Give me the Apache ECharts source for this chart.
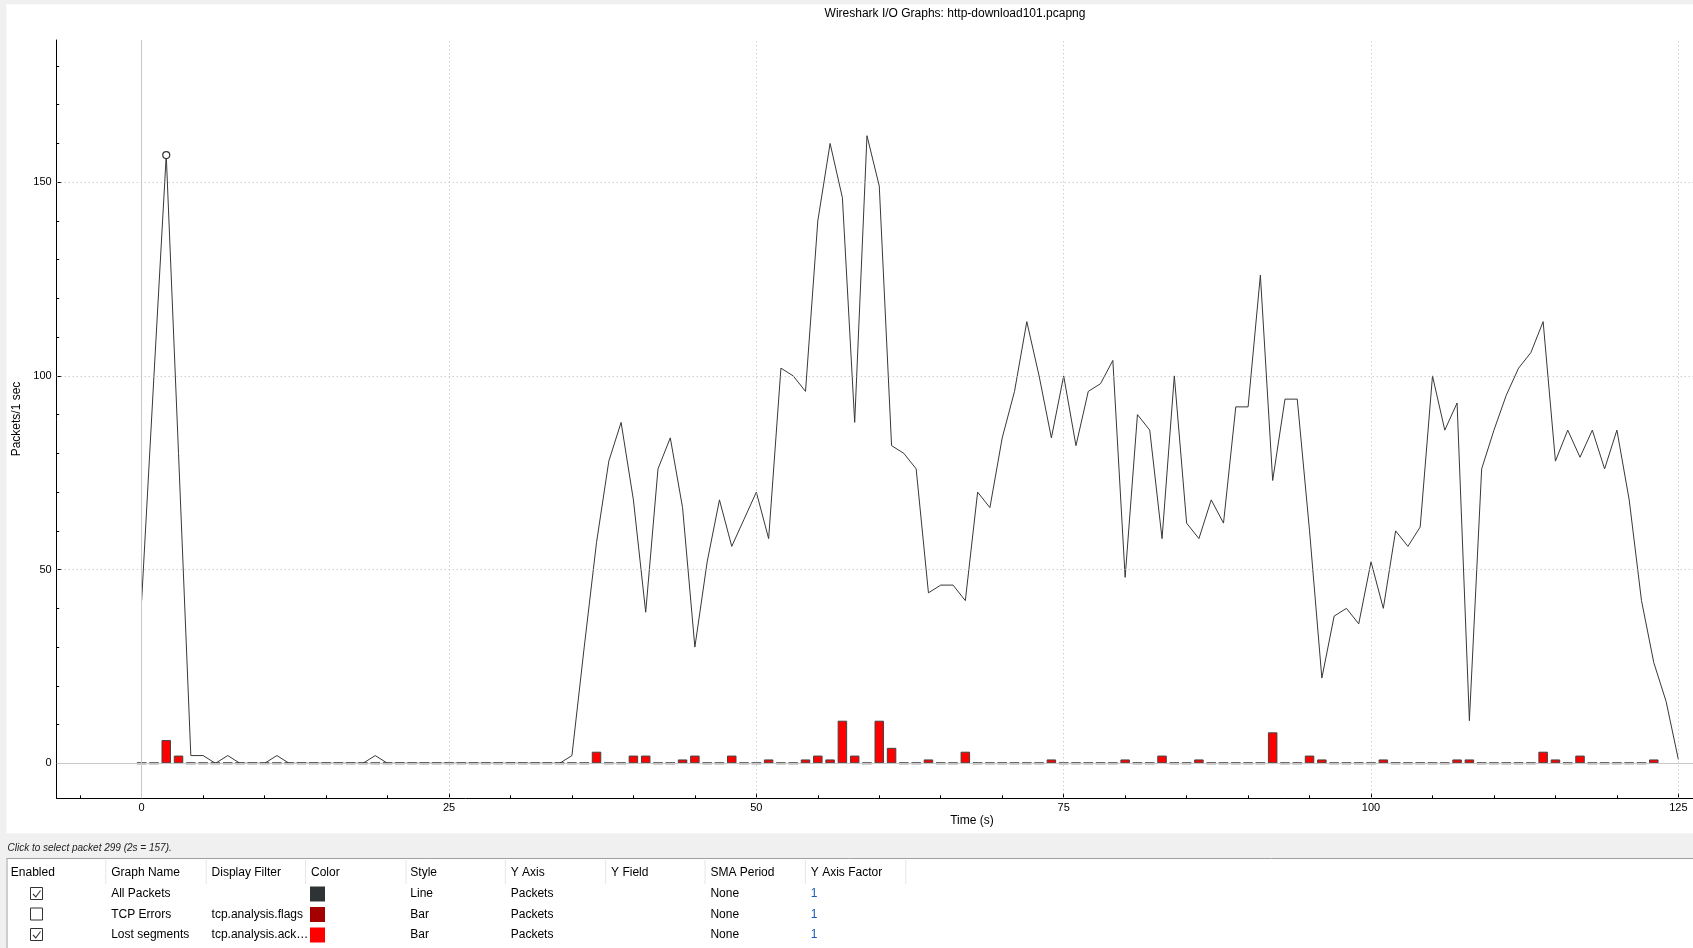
<!DOCTYPE html>
<html><head><meta charset="utf-8">
<script src="https://cdn.jsdelivr.net/npm/echarts@6/dist/echarts.min.js"></script>
<style>html,body{margin:0;padding:0;background:#f0f0f0;}#c{width:1693px;height:948px;}</style>
</head><body><div id="c"></div>
<script>
// ---- data ----
const allPackets = [42,100,157,80,2,2,0,2,0,0, 0,2,0,0,0,0,0,0,0,2, 0,0,0,0,0,0,0,0,0,0,
  0,0,0,0,0,2,30,57,78,88, 68,39,76,84,66,30,52,68,56,63, 70,58,102,100,96,140,160,146,88,162,
  149,82,80,76,44,46,46,42,70,66, 84,96,114,100,84,100,82,96,98,104, 48,90,86,58,100,62,58,68,62,92,
  92,126,73,94,94,60,22,38,40,36, 52,40,60,56,61,100,86,93,11,76, 86,95,102,106,114,78,86,79,86,76,
  86,68,42,26,16,1];
const lostSegments = [0,0,6,2,0,0,0,0,0,0, 0,0,0,0,0,0,0,0,0,0, 0,0,0,0,0,0,0,0,0,0,
  0,0,0,0,0,0,0,3,0,0, 2,2,0,0,1,2,0,0,2,0, 0,1,0,0,1,2,1,11,2,0,
  11,4,0,0,1,0,0,3,0,0, 0,0,0,0,1,0,0,0,0,0, 1,0,0,2,0,0,1,0,0,0,
  0,0,8,0,0,2,1,0,0,0, 0,1,0,0,0,0,0,1,1,0, 0,0,0,0,3,1,0,2,0,0,
  0,0,0,1];
const xTickLabels = [0,25,50,75,100,125];
const xMinorTicks = [-5,5,10,15,20,30,35,40,45,55,60,65,70,80,85,90,95,105,110,115,120];
const yTickLabels = [0,50,100,150];
const yMinorTicks = [10,20,30,40,60,70,80,90,110,120,130,140,160,170,180];
const chartTitle = 'Wireshark I/O Graphs: http-download101.pcapng';
const xAxisName = 'Time (s)';
const yAxisName = 'Packets/1 sec';
const statusText = 'Click to select packet 299 (2s = 157).';
const tableHeaders = ['Enabled','Graph Name','Display Filter','Color','Style','Y Axis','Y Field','SMA Period','Y Axis Factor'];
const rowEnabled = [true,false,true,false];
const rowNames = ['All Packets','TCP Errors','Lost segments',''];
const rowFilters = ['','tcp.analysis.flags','tcp.analysis.ack\u2026',''];
const rowColors = ['#2e3436','#a40000','#ff0000','#00ff00'];
const rowStyles = ['Line','Bar','Bar',''];
const rowYAxis = ['Packets','Packets','Packets',''];
const rowSMA = ['None','None','None',''];
const rowFactor = ['1','1','1',''];

// ---- build ----
const FONT = '"Liberation Sans", Arial, sans-serif';
const X_MIN = -6.91, X_MAX = 126.19, Y_MIN = -9.03, Y_MAX = 186.7;
const peakIdx = allPackets.indexOf(Math.max(...allPackets.slice(0,10)));

const lineData = allPackets.map((v,i)=> i===peakIdx ?
  {value:[i,v], symbol:'circle', symbolSize:7, itemStyle:{color:'#fff', borderColor:'#333', borderWidth:1.2}} : [i,v]);
const barData = lostSegments.map((v,i)=> v===0 ?
  {value:[i,v], itemStyle:{borderWidth:2, borderColor:'#3a3a3a'}} : [i,v]);

const DOT = [1,3];
const gridLines = [];
xTickLabels.filter(v=>v!==0).forEach(v=>gridLines.push({xAxis:v, lineStyle:{type:DOT, color:'#b8b8b8', width:1}}));
yTickLabels.filter(v=>v!==0).forEach(v=>gridLines.push({yAxis:v, lineStyle:{type:DOT, color:'#b8b8b8', width:1}}));
gridLines.push({xAxis:0, lineStyle:{type:'solid', color:'#c8c8c8', width:1}});
gridLines.push({yAxis:0, lineStyle:{type:'solid', color:'#c8c8c8', width:1}});

const g = [];
g.push({type:'rect', z:-20, silent:true, shape:{x:6.5,y:4.3,width:1686.5,height:829}, style:{fill:'#ffffff'}});
g.push({type:'text', x:955, y:13.5, style:{text:chartTitle, font:'12px '+FONT, fill:'#000', align:'center', verticalAlign:'middle'}});
g.push({type:'text', x:972, y:821, style:{text:xAxisName, font:'12px '+FONT, fill:'#000', align:'center', verticalAlign:'middle'}});
g.push({type:'text', x:16.5, y:419, rotation:Math.PI/2, style:{text:yAxisName, font:'12px '+FONT, fill:'#000', align:'center', verticalAlign:'middle'}});
g.push({type:'text', x:7.5, y:848.5, style:{text:statusText, font:'italic 10px '+FONT, fill:'#222', align:'left', verticalAlign:'middle'}});
// table
g.push({type:'rect', z:-20, silent:true, shape:{x:6.5,y:858,width:1686.5,height:90}, style:{fill:'#ffffff'}});
g.push({type:'line', shape:{x1:6.5,y1:858.5,x2:1693,y2:858.5}, style:{stroke:'#a0a0a0', lineWidth:1}});
g.push({type:'line', shape:{x1:7,y1:858.5,x2:7,y2:948}, style:{stroke:'#a0a0a0', lineWidth:1}});
const colX = [10.8,111.2,211.6,311,410.3,510.7,611.1,710.4,810.8];
const sepX = [105.8,206.2,305.6,406,505.3,605.7,705,805.4,905.8];
tableHeaders.forEach((h,i)=>{
  g.push({type:'text', x:colX[i], y:873, style:{text:h, font:'12px '+FONT, fill:'#000', align:'left', verticalAlign:'middle'}});
});
sepX.forEach(x=>g.push({type:'line', shape:{x1:x,y1:860,x2:x,y2:884}, style:{stroke:'#e6e6e6', lineWidth:1}}));
const rowY = [894,914.5,935,955.5];
rowY.forEach((y,r)=>{
  g.push({type:'rect', shape:{x:30.5,y:y-6.5,width:12,height:12}, style:{fill:'#fff', stroke:'#333', lineWidth:1}});
  if (rowEnabled[r]) g.push({type:'polyline', shape:{points:[[33,y],[35.8,y+3],[40.5,y-3.5]]}, style:{stroke:'#333', lineWidth:1.1, fill:null}});
  g.push({type:'rect', shape:{x:310,y:y-7.5,width:15,height:15}, style:{fill:rowColors[r]}});
  const cells = [[colX[1],rowNames[r],'#000'],[colX[2],rowFilters[r],'#000'],[colX[4],rowStyles[r],'#000'],
    [colX[5],rowYAxis[r],'#000'],[colX[7],rowSMA[r],'#000'],[colX[8],rowFactor[r],'#1c5bb5']];
  cells.forEach(c=>{ if(c[1]) g.push({type:'text', x:c[0], y:y, style:{text:c[1], font:'12px '+FONT, fill:c[2], align:'left', verticalAlign:'middle'}}); });
});

const chart = echarts.init(document.getElementById('c'), null, {renderer:'canvas'});
chart.setOption({
  animation:false,
  backgroundColor:'#f0f0f0',
  grid:{left:56.7, top:40, right:0, bottom:149.7, containLabel:false},
  xAxis:[
    {type:'value', min:X_MIN, max:X_MAX, position:'bottom',
     axisLine:{show:true, onZero:false, lineStyle:{color:'#000', width:1}},
     axisTick:{show:true, inside:true, length:5, customValues:xTickLabels, lineStyle:{color:'#000'}},
     axisLabel:{show:true, customValues:xTickLabels, margin:4, color:'#000', fontSize:11, fontFamily:FONT},
     splitLine:{show:false}},
    {type:'value', min:X_MIN, max:X_MAX, position:'bottom',
     axisLine:{show:false, onZero:false},
     axisTick:{show:true, inside:true, length:3, customValues:xMinorTicks, lineStyle:{color:'#000'}},
     axisLabel:{show:false}, splitLine:{show:false}}
  ],
  yAxis:[
    {type:'value', min:Y_MIN, max:Y_MAX, position:'left',
     axisLine:{show:true, onZero:false, lineStyle:{color:'#000', width:1}},
     axisTick:{show:true, inside:true, length:5, customValues:yTickLabels, lineStyle:{color:'#000'}},
     axisLabel:{show:true, customValues:yTickLabels, margin:5, color:'#000', fontSize:11, fontFamily:FONT},
     splitLine:{show:false}},
    {type:'value', min:Y_MIN, max:Y_MAX, position:'left',
     axisLine:{show:false, onZero:false},
     axisTick:{show:true, inside:true, length:2.5, customValues:yMinorTicks, lineStyle:{color:'#000'}},
     axisLabel:{show:false}, splitLine:{show:false}}
  ],
  series:[
    {name:'grid', type:'line', data:[], z:0, silent:true,
     markLine:{silent:true, symbol:['none','none'], label:{show:false}, data:gridLines, animation:false}},
    {name:'All Packets', type:'line', data:lineData, z:3, symbol:'none', showSymbol:true,
     lineStyle:{color:'#383838', width:1}, itemStyle:{color:'#383838'}},
    {name:'Lost segments', type:'bar', data:barData, z:4, barWidth:9.5,
     itemStyle:{color:'#ff0000', borderColor:'#444', borderWidth:1}}
  ],
  graphic:g
});
</script></body></html>
